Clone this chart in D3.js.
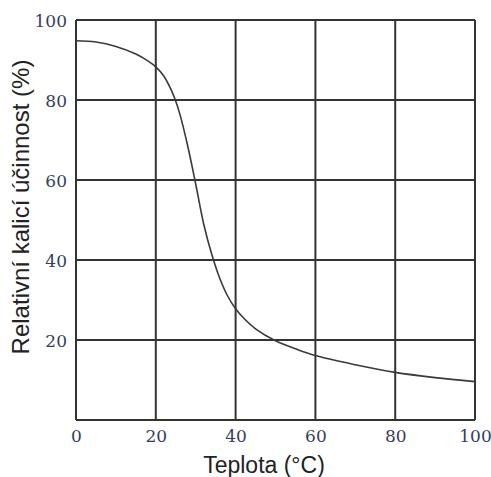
<!DOCTYPE html>
<html><head><meta charset="utf-8">
<script src="https://cdn.jsdelivr.net/npm/d3@7"></script>
<style>body{margin:0;background:#fff;} svg{display:block;}</style>
</head><body>
<svg id="chart" width="491" height="477"></svg>
<script>
const temps  = [0, 5, 10, 15, 18, 20, 22, 24, 25, 26, 28, 30, 32, 34, 36, 38, 40, 42, 45, 50, 55, 60, 70, 80, 90, 100];
const values = [94.8, 94.5, 93.4, 91.5, 89.8, 88.3, 86.0, 82.2, 79.7, 76.6, 68.5, 59, 49, 41.5, 35.5, 31, 27.8, 25.5, 22.8, 19.8, 17.8, 16.1, 13.8, 11.9, 10.6, 9.6];
const xTicks = [0, 20, 40, 60, 80, 100];
const yTicks = [20, 40, 60, 80, 100];
const xTitle = "Teplota (°C)";
const yTitle = "Relativní kalicí účinnost (%)";

const svg = d3.select("#chart");
const L = 76, R = 475, T = 20, B = 420;
const x = d3.scaleLinear().domain([0, 100]).range([L, R]);
const y = d3.scaleLinear().domain([0, 100]).range([B, T]);
const gridColor = "#333";
const serif = "'DejaVu Serif', serif";

// grid
svg.append("g").selectAll("line").data(xTicks).join("line")
  .attr("x1", d => x(d)).attr("x2", d => x(d)).attr("y1", T).attr("y2", B)
  .attr("stroke", gridColor).attr("stroke-width", 2);
svg.append("g").selectAll("line").data([0].concat(yTicks)).join("line")
  .attr("x1", L).attr("x2", R).attr("y1", d => y(d)).attr("y2", d => y(d))
  .attr("stroke", gridColor).attr("stroke-width", 2);

// axes labels via d3 axes
const xAxis = svg.append("g").attr("transform", `translate(0,${B})`)
  .call(d3.axisBottom(x).tickValues(xTicks).tickSize(0).tickPadding(10));
const yAxis = svg.append("g").attr("transform", `translate(${L},0)`)
  .call(d3.axisLeft(y).tickValues(yTicks).tickSize(0).tickPadding(9));
[xAxis, yAxis].forEach(g => {
  g.select(".domain").remove();
  g.attr("font-family", serif).attr("font-size", 17);
  g.selectAll("text").attr("fill", "#363d5e");
});
xAxis.selectAll("text").attr("dy", "0.71em");
yAxis.selectAll("text").attr("dy", "0.4em");

// curve
const line = d3.line().x((d, i) => x(temps[i])).y(d => y(d)).curve(d3.curveCatmullRom.alpha(0.5));
svg.append("path").datum(values).attr("d", line)
  .attr("fill", "none").attr("stroke", "#3a3a3a").attr("stroke-width", 1.6);

// titles
svg.append("text").attr("x", 264).attr("y", 473).attr("text-anchor", "middle")
  .attr("font-family", "'Liberation Sans', Arial, sans-serif").attr("font-size", 23)
  .attr("fill", "#222").text(xTitle);
svg.append("text").attr("transform", "translate(29,207) rotate(-90)").attr("text-anchor", "middle")
  .attr("font-family", "'Liberation Sans', Arial, sans-serif").attr("font-size", 24)
  .attr("fill", "#222").text(yTitle);
</script>
</body></html>
